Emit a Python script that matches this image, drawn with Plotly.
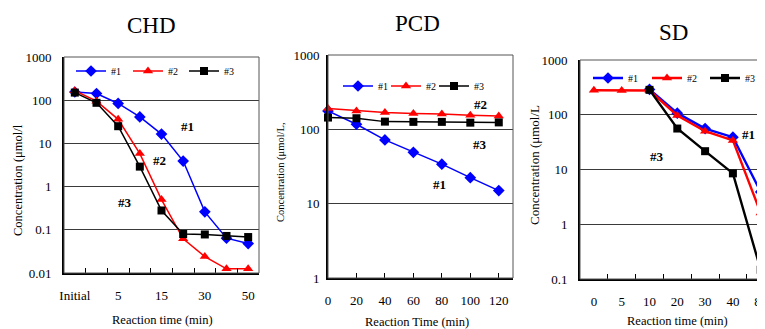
import plotly.graph_objects as go

# The page body has an 8px margin, so the figure is drawn 8px in from the window corner.
OFF = 8
W, H = 765 - OFF, 329 - OFF

# ---------------- data ----------------
chd_times = ["Initial", "1", "5", "10", "15", "20", "30", "40", "50"]
chd_tick_labels = ["Initial", "", "5", "", "15", "", "30", "", "50"]
chd_s1 = [155, 143, 84, 41, 16.4, 3.9, 0.26, 0.064, 0.048]
chd_s2 = [165, 95, 36, 5.8, 0.5, 0.062, 0.024, 0.0125, 0.0125]
chd_s3 = [150, 87, 25, 2.9, 0.28, 0.08, 0.078, 0.072, 0.068]

pcd_times = [0, 20, 40, 60, 80, 100, 120]
pcd_s1 = [177, 117, 72, 49, 34, 22.4, 15]
pcd_s2 = [190, 177, 168, 163, 161, 155, 151]
pcd_s3 = [144, 141, 127, 126, 126, 123, 124]

sd_times = ["0", "5", "10", "20", "30", "40", "80"]
sd_s1 = [None, None, 290, 107, 56, 39, 3.9]
sd_s2 = [280, 277, 277, 97, 50, 34, 1.6]
sd_s3 = [None, None, 285, 56, 21.6, 8.5, 0.147]

series_names = ["#1", "#2", "#3"]
series_colors = ["#0000FF", "#FF0000", "#000000"]
series_symbols = ["diamond", "triangle-up", "square"]

SERIF = "Liberation Serif"

fig = go.Figure()


def px_x(p):
    return (p - OFF) / W


def px_y(p):
    return 1 - (p - OFF) / H


panels = [
    ("x", "y", ["legend", "legend2", "legend3"], chd_times, [chd_s1, chd_s2, chd_s3], 1.5),
    ("x2", "y2", ["legend4", "legend5", "legend6"], pcd_times, [pcd_s1, pcd_s2, pcd_s3], 1.5),
    ("x3", "y3", ["legend7", "legend8", "legend9"], sd_times, [sd_s1, sd_s2, sd_s3], 2.4),
]

for xa, ya, lgs, xs, ser, lw in panels:
    for i in range(3):
        fig.add_trace(go.Scatter(
            x=xs, y=ser[i], name=series_names[i], mode="lines+markers",
            line=dict(color=series_colors[i], width=lw),
            marker=dict(symbol=series_symbols[i], color=series_colors[i],
                        size=9 if i < 2 else 8, line=dict(width=0)),
            xaxis=xa, yaxis=ya, legend=lgs[i], showlegend=True,
            cliponaxis=False,
        ))

tickfont = dict(family=SERIF, size=13, color="black")
grid = "#3a3a3a"

common_y = dict(type="log", showgrid=True, gridcolor=grid, gridwidth=1,
                showline=True, linecolor="black", linewidth=2,
                ticks="", tickfont=tickfont, dtick=1, zeroline=False,
                tickformat="~g")
common_x = dict(showline=True, linecolor="black", linewidth=2,
                ticks="inside", ticklen=5, tickcolor="black",
                showgrid=False, tickfont=tickfont, zeroline=False,
                ticklabelstandoff=9, tickangle=0)

sd_left, sd_right, sd_cat = 580, 765, 27.8

fig.update_layout(
    width=W, height=H, margin=dict(l=0, r=0, t=0, b=0, autoexpand=False),
    paper_bgcolor="white", plot_bgcolor="white", showlegend=True,
    xaxis=dict(common_x, domain=[px_x(64), px_x(259)], anchor="y",
               type="category", categoryorder="array", categoryarray=chd_times,
               tickvals=chd_times, ticktext=chd_tick_labels,
               tickson="boundaries", range=[-0.5, 8.5]),
    yaxis=dict(common_y, domain=[px_y(273), px_y(57)], anchor="x",
               range=[-2, 3], ticklabelstandoff=8),
    xaxis2=dict(common_x, domain=[px_x(328), px_x(513)], anchor="y2",
                type="linear", range=[0, 130], tickvals=pcd_times),
    yaxis2=dict(common_y, domain=[px_y(278), px_y(55)], anchor="x2",
                range=[0, 3], ticklabelstandoff=4),
    xaxis3=dict(common_x, domain=[px_x(sd_left), px_x(sd_right)], anchor="y3",
                type="category", categoryorder="array", categoryarray=sd_times,
                tickvals=sd_times, tickson="boundaries",
                range=[-0.5, -0.5 + (sd_right - sd_left) / sd_cat]),
    yaxis3=dict(common_y, domain=[px_y(279), px_y(60)], anchor="x3",
                range=[-1, 3], ticklabelstandoff=8),
)

leg_common = dict(orientation="h", xanchor="left", yanchor="middle", visible=True,
                  bgcolor="rgba(0,0,0,0)", font=dict(family=SERIF, size=10, color="black"),
                  itemwidth=30, tracegroupgap=0)
legend_pos = [(71, 71), (128, 71), (184, 71),
              (338, 86), (386, 86), (434, 86),
              (588, 78), (647, 78), (705, 78)]
leg_layout = {}
for k, (lx, ly) in enumerate(legend_pos):
    key = "legend" if k == 0 else f"legend{k + 1}"
    leg_layout[key] = dict(leg_common, x=px_x(lx), y=px_y(ly))
fig.update_layout(**leg_layout)

for xa, ya in [("x", "y"), ("x2", "y2"), ("x3", "y3")]:
    fig.add_shape(type="rect", xref=f"{xa} domain", yref=f"{ya} domain",
                  x0=0, x1=1, y0=0, y1=1, line=dict(color="#555", width=1),
                  layer="above")

ann = []
for txt, x, y in [("CHD", 151, 25), ("PCD", 417, 23), ("SD", 673, 32)]:
    ann.append(dict(text=txt, x=px_x(x), y=px_y(y), font=dict(family=SERIF, size=23, color="black")))
for txt, x, y in [("Reaction time (min)", 162, 320), ("Reaction Time (min)", 417, 322),
                  ("Reaction time (min)", 677, 321)]:
    ann.append(dict(text=txt, x=px_x(x), y=px_y(y), font=dict(family=SERIF, size=12.5, color="black")))
for txt, x, y, s in [("Concentration (μmol/l", 18, 180, 12.5), ("Concentration (μmol/L,", 281, 172, 10.5),
                     ("Concentration (μmol/L", 535, 165, 13)]:
    ann.append(dict(text=txt, x=px_x(x), y=px_y(y), textangle=-90, font=dict(family=SERIF, size=s, color="black")))
for txt, x, y in [("#1", 187, 127), ("#2", 159, 161), ("#3", 125, 202),
                  ("#2", 480, 104), ("#3", 480, 144), ("#1", 439, 185),
                  ("#1", 748, 135), ("#3", 657, 157)]:
    ann.append(dict(text=f"<b>{txt}</b>", x=px_x(x), y=px_y(y), font=dict(family=SERIF, size=13, color="black")))
ann.append(dict(text="#2", x=px_x(768), y=px_y(232), font=dict(family=SERIF, size=12, color="black")))

for a in ann:
    a.update(xref="paper", yref="paper", showarrow=False, xanchor="center", yanchor="middle")
fig.update_layout(annotations=ann)

fig.write_html("out.html")
